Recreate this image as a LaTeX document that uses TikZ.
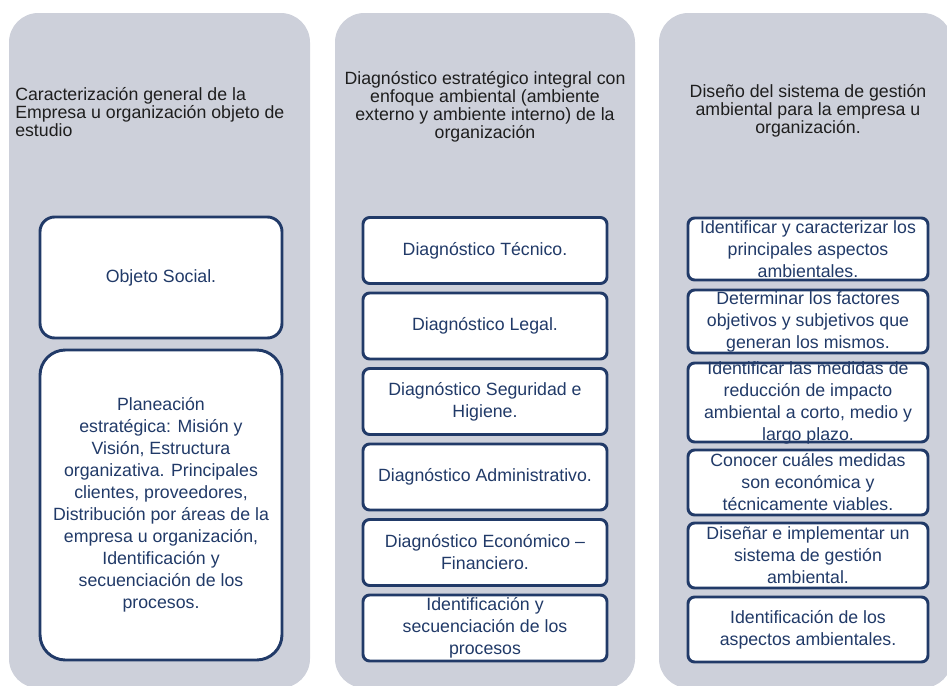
\documentclass[tikz,border=0pt]{standalone}
\usepackage{fontspec}
\setmainfont{Liberation Sans}
\definecolor{colgray}{RGB}{205,208,218}
\definecolor{boxblue}{RGB}{33,58,104}
\definecolor{titlegray}{RGB}{30,30,30}
\newcommand{\titlefont}{\fontsize{13.3}{13.5}\selectfont}
\newcommand{\boxfont}{\fontsize{13.3}{16.5}\selectfont}

\begin{document}
\begin{tikzpicture}[x=0.75pt,y=-0.75pt,
	column/.style={fill=colgray, rounded corners=22pt},
	title/.style={text=titlegray, font=\titlefont, inner sep=0pt},
	item/.style={draw=boxblue, line width=2.2pt, fill=white, rounded corners=5pt,
		text=boxblue, font=\boxfont, align=center, inner xsep=0pt, inner ysep=-3pt}]
	\clip (0,0) rectangle (947,686);
	% gray columns
	\path[column] (9,13) rectangle (310,688);
	\path[column] (335,13) rectangle (635,688);
	\path[column] (659,13) rectangle (952,688);
	% first column
	\node[title, align=left, anchor=west] (t1) at (15,112)
		{Caracterización general de la\\Empresa u organización objeto de\\estudio};
	\node[item, rounded corners=11pt, minimum width=181.5pt, minimum height=90.75pt] (obj) at (161,277.5)
		{Objeto Social.};
	\node[item, rounded corners=19pt, minimum width=181.5pt, minimum height=232.5pt] (plan) at (161,505)
		{Planeación\\estratégica: Misión y\\Visión, Estructura\\organizativa. Principales\\clientes, proveedores,\\Distribución por áreas de la\\empresa u organización,\\Identificación y\\secuenciación de los\\procesos.};
	% second column
	\node[title, align=center] (t2) at (485,107)
		{Diagnóstico estratégico integral con\\enfoque ambiental (ambiente\\externo y ambiente interno) de la\\organización};
	\node[item, minimum width=183pt, minimum height=49.5pt] (tec) at (485,250.5) {Diagnóstico Técnico.};
	\node[item, minimum width=183pt, minimum height=49.5pt] (leg) at (485,326) {Diagnóstico Legal.};
	\node[item, minimum width=183pt, minimum height=49.5pt] (seg) at (485,401.5) {Diagnóstico Seguridad e\\Higiene.};
	\node[item, minimum width=183pt, minimum height=49.5pt] (adm) at (485,477) {Diagnóstico Administrativo.};
	\node[item, minimum width=183pt, minimum height=49.5pt] (eco) at (485,552.5) {Diagnóstico Económico --\\Financiero.};
	\node[item, minimum width=183pt, minimum height=49.5pt] (pro) at (485,628) {Identificación y\\secuenciación de los\\procesos};
	% third column
	\node[title, align=center] (t3) at (808,111)
		{Diseño del sistema de gestión\\ambiental para la empresa u\\organización.};
	\node[item, minimum width=180pt, minimum height=46.5pt] (car) at (808,249)
		{Identificar y caracterizar los\\principales aspectos\\ambientales.};
	\node[item, minimum width=180pt, minimum height=47.25pt] (fac) at (808,321.5)
		{Determinar los factores\\objetivos y subjetivos que\\generan los mismos.};
	\node[item, minimum width=180pt, minimum height=59.25pt] (med) at (808,402.5)
		{Identificar las medidas de\\reducción de impacto\\ambiental a corto, medio y\\largo plazo.};
	\node[item, minimum width=180pt, minimum height=48.75pt] (via) at (808,482.5)
		{Conocer cuáles medidas\\son económica y\\técnicamente viables.};
	\node[item, minimum width=180pt, minimum height=48.75pt] (dis) at (808,555.5)
		{Diseñar e implementar un\\sistema de gestión\\ambiental.};
	\node[item, minimum width=180pt, minimum height=48.75pt] (asp) at (808,629.5)
		{Identificación de los\\aspectos ambientales.};
\end{tikzpicture}
\end{document}
